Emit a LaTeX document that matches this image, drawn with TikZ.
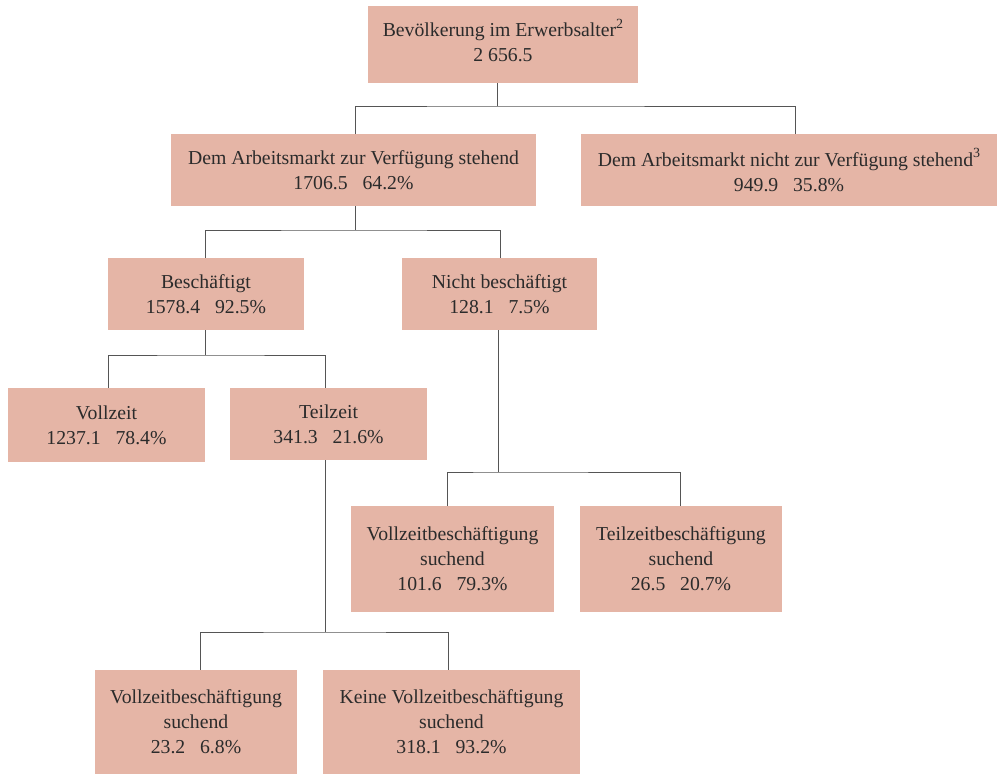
\documentclass[tikz,border=0pt]{standalone}
\usepackage{fontspec}
\setmainfont{Liberation Serif}
\usetikzlibrary{calc}
\definecolor{boxfill}{HTML}{E5B5A6}
\definecolor{txt}{HTML}{2B2B2B}
\definecolor{conn}{HTML}{555555}
\newcommand{\gap}{\hspace{0.75em}}
\newcommand{\sups}[1]{\raisebox{0.45em}{\fontsize{10.5}{12}\selectfont #1}}
\begin{document}
\begin{tikzpicture}[x=0.75pt,y=-0.75pt,
  box/.style={fill=boxfill,draw=none,inner sep=0pt,align=center,text=txt,
    font=\fontsize{14.8}{18.75}\selectfont},
  conn/.style={draw=conn,line width=0.75pt}]
\useasboundingbox (0,0) rectangle (998,774);
\node[box,minimum width=270*0.75pt,minimum height=77*0.75pt] (n1) at (503,44.5)
  {Bevölkerung im Erwerbsalter\sups{2}\\2 656.5\\[-12.5pt]\mbox{}};
\node[box,minimum width=365*0.75pt,minimum height=72*0.75pt] (n2) at (353.5,170)
  {Dem Arbeitsmarkt zur Verfügung stehend\\1706.5\gap 64.2\%};
\node[box,minimum width=416*0.75pt,minimum height=72*0.75pt] (n3) at (789,170)
  {Dem Arbeitsmarkt nicht zur Verfügung stehend\sups{3}\\949.9\gap 35.8\%};
\node[box,minimum width=196*0.75pt,minimum height=72*0.75pt] (n4) at (206,294)
  {Beschäftigt\\1578.4\gap 92.5\%};
\node[box,minimum width=195*0.75pt,minimum height=72*0.75pt] (n5) at (499.5,294)
  {Nicht beschäftigt\\128.1\gap 7.5\%};
\node[box,minimum width=197*0.75pt,minimum height=74*0.75pt] (n6) at (106.5,425)
  {Vollzeit\\1237.1\gap 78.4\%};
\node[box,minimum width=197*0.75pt,minimum height=72*0.75pt] (n7) at (328.5,424)
  {Teilzeit\\341.3\gap 21.6\%};
\node[box,minimum width=203*0.75pt,minimum height=106*0.75pt] (n8) at (452.5,559)
  {Vollzeitbeschäftigung\\suchend\\101.6\gap 79.3\%};
\node[box,minimum width=202*0.75pt,minimum height=106*0.75pt] (n9) at (681,559)
  {Teilzeitbeschäftigung\\suchend\\26.5\gap 20.7\%};
\node[box,minimum width=202*0.75pt,minimum height=104*0.75pt] (n10) at (196,722)
  {Vollzeitbeschäftigung\\suchend\\23.2\gap 6.8\%};
\node[box,minimum width=257*0.75pt,minimum height=104*0.75pt] (n11) at (451.5,722)
  {Keine Vollzeitbeschäftigung\\suchend\\318.1\gap 93.2\%};
% junction coordinates
\coordinate (j1) at (497,106);
\coordinate (j2) at (355,230);
\coordinate (j3) at (205,355);
\coordinate (j4) at (498,472);
\coordinate (j5) at (325,632);
% connectors
\draw[conn] (n1.south -| j1) -- (j1);
\draw[conn] ($(n2.north)+(1.5,0)$) |- (j1) -| ($(n3.north)+(6,0)$);
\draw[conn] (n2.south -| j2) -- (j2);
\draw[conn] ($(n4.north)+(-1,0)$) |- (j2) -| ($(n5.north)+(0.5,0)$);
\draw[conn] (n4.south -| j3) -- (j3);
\draw[conn] ($(n6.north)+(1.5,0)$) |- (j3) -| ($(n7.north)+(-3.5,0)$);
\draw[conn] (n5.south -| j4) -- (j4);
\draw[conn] ($(n8.north)+(-5.5,0)$) |- (j4) -| ($(n9.north)+(-1,0)$);
\draw[conn] (n7.south -| j5) -- (j5);
\draw[conn] ($(n10.north)+(4,0)$) |- (j5) -| ($(n11.north)+(-3.5,0)$);
\end{tikzpicture}
\end{document}
